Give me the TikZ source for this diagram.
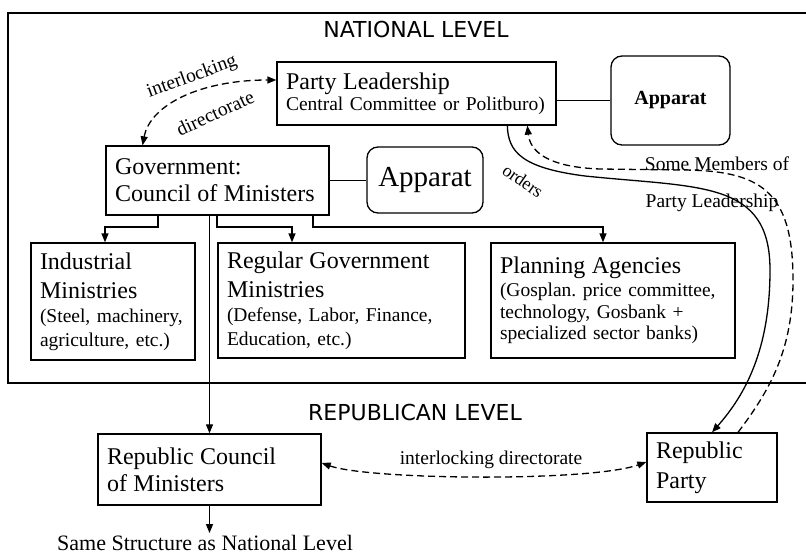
\documentclass[tikz,border=0pt]{standalone}
\usepackage{fontspec}
\setmainfont{Liberation Serif}
\newfontfamily\sansf{DejaVu Sans}
\usetikzlibrary{arrows.meta,calc}
\newcommand\bigf{\fontsize{24}{24}\selectfont}
\newcommand\medf{\fontsize{22}{26}\selectfont}
\newcommand\smf{\fontsize{19.5}{24}\selectfont}
\newcommand\lin[1]{\mbox{#1}}
\frenchspacing
\begin{document}
\begin{tikzpicture}[x=1pt,y=-1pt,
  mytip/.tip={Triangle[length=9pt,width=7pt]},
  box/.style={draw,line width=1.3pt,rectangle,inner xsep=9pt,inner ysep=0pt,align=left,font=\smf},
  rbox/.style={draw,line width=1.3pt,rounded corners=11pt,inner sep=0pt},
  arr/.style={line width=1.3pt,-mytip},
  dsh/.style={line width=1.3pt,dash pattern=on 7pt off 4pt},
  lbl/.style={font=\smf,inner sep=1pt},
  ttl/.style={font=\sansf\fontsize{22}{26}\selectfont,inner sep=1pt},
]
\useasboundingbox (0,0) rectangle (806,554);
% frame
\draw[line width=1.5pt] (8,13) rectangle (820,383);
\node[ttl] (natl) at (416,29) {NATIONAL LEVEL};
\node[ttl] (repl) at (415,412) {REPUBLICAN LEVEL};

% boxes
\node[box,text width=261pt,minimum height=63pt] (party) at (416.5,93.5)
  {{\bigf\lin{Party Leadership}}\\[-3pt]\lin{Central Committee or Politburo)}};
\node[rbox,minimum width=119pt,minimum height=89pt,font=\fontsize{20}{24}\selectfont\bfseries] (app1) at (670.5,100.5) {Apparat};
\node[box,text width=205pt,minimum height=69pt] (gov) at (217.5,180.5)
  {{\bigf\lin{Government:}}\\[3pt]{\bigf\lin{Council of Ministers}}};
\node[rbox,minimum width=116pt,minimum height=66pt,font=\fontsize{29}{34}\selectfont] (app2) at (425,180) {Apparat};
\node[box,text width=146pt,minimum height=117pt] (ind) at (113,301.5)
  {{\bigf\lin{Industrial}}\\[5pt]{\bigf\lin{Ministries}}\\\lin{(Steel, machinery,}\\\lin{agriculture, etc.)}};
\node[box,text width=229pt,minimum height=115pt] (reg) at (341.5,300.5)
  {{\bigf\lin{Regular Government}}\\[5pt]{\bigf\lin{Ministries}}\\\lin{(Defense, Labor, Finance,}\\\lin{Education, etc.)}};
\node[box,text width=226pt,minimum height=115pt] (plan) at (613,300.5)
  {{\bigf\lin{Planning Agencies}}\\[-1pt]\lin{(Gosplan. price committee,}\\[-2.5pt]\lin{technology, Gosbank +}\\[-2.5pt]\lin{specialized sector banks)}};
\node[box,text width=205pt,minimum height=71pt] (rc) at (209.5,469.5)
  {{\bigf\lin{Republic Council}}\\[3pt]{\bigf\lin{of Ministers}}};
\node[box,text width=112pt,minimum height=69pt] (rp) at (712,467.5)
  {{\bigf\lin{Republic}}\\[6pt]{\bigf\lin{Party}}};
\node[font=\medf,inner sep=2pt] (same) at (205,543) {Same Structure as National Level};

% labels
\node[lbl,rotate=20] (il1) at (192,77) {interlocking};
\node[lbl,rotate=25] (il2) at (215,113) {directorate};
\node[lbl,rotate=-35,font=\fontsize{18}{20}\selectfont] (ord) at (523,181) {orders};
\node[lbl,anchor=base] (smo) at (717,170) {Some Members of};
\node[lbl,anchor=base] (spl) at (712,207) {Party Leadership};
\node[lbl] (il3) at (491,460) {interlocking directorate};

% plain connectors
\draw[line width=1.3pt] (app1.west) -- (app1.west -| party.east);
\draw[line width=1.3pt] (gov.east) -- (gov.east -| app2.west);

% branches from government
\coordinate (j1) at (158,227); \coordinate (j1b) at (105,227);
\coordinate (j2) at (217,227); \coordinate (j2b) at (292,227);
\coordinate (j3) at (313,227); \coordinate (j3b) at (603,227);
\draw[arr] (gov.south -| j1) -- (j1) -- (j1b) -- (j1b |- ind.north);
\draw[arr] (gov.south -| j2) -- (j2) -- (j2b) -- (j2b |- reg.north);
\draw[arr] (gov.south -| j3) -- (j3) -- (j3b) -- (j3b |- plan.north);
\draw[line width=0.9pt,-mytip] (gov.south -| rc.north) -- (rc.north);
\draw[arr] (rc.south) -- (rc.south |- same.north);

% interlocking directorates
\draw[dsh,mytip-mytip] ($(gov.north west)!0.166!(gov.north east)$)
  .. controls (150,105) and (200,80) .. ($(party.north west)!0.29!(party.south west)$);
\draw[dsh,mytip-mytip] ([yshift=6.5pt]rc.east)
  .. controls (370,480) and (590,482) .. ([yshift=5.5pt]rp.west);

% orders (solid) and some members (dashed)
\draw[arr] ([xshift=231pt]party.south west)
  .. controls (508,152) and (522,168) .. (585,176)
  .. controls (700,188) and (770,180) .. (770,270)
  .. controls (770,350) and (745,395) .. (rp.north);
\draw[dsh,-mytip] ([xshift=26pt]rp.north)
  .. controls (770,390) and (793,350) .. (793,280)
  .. controls (793,190) and (760,170) .. (680,170)
  -- (600,169)
  .. controls (545,167) and (530,150) .. ([xshift=251pt]party.south west);
\end{tikzpicture}
\end{document}
